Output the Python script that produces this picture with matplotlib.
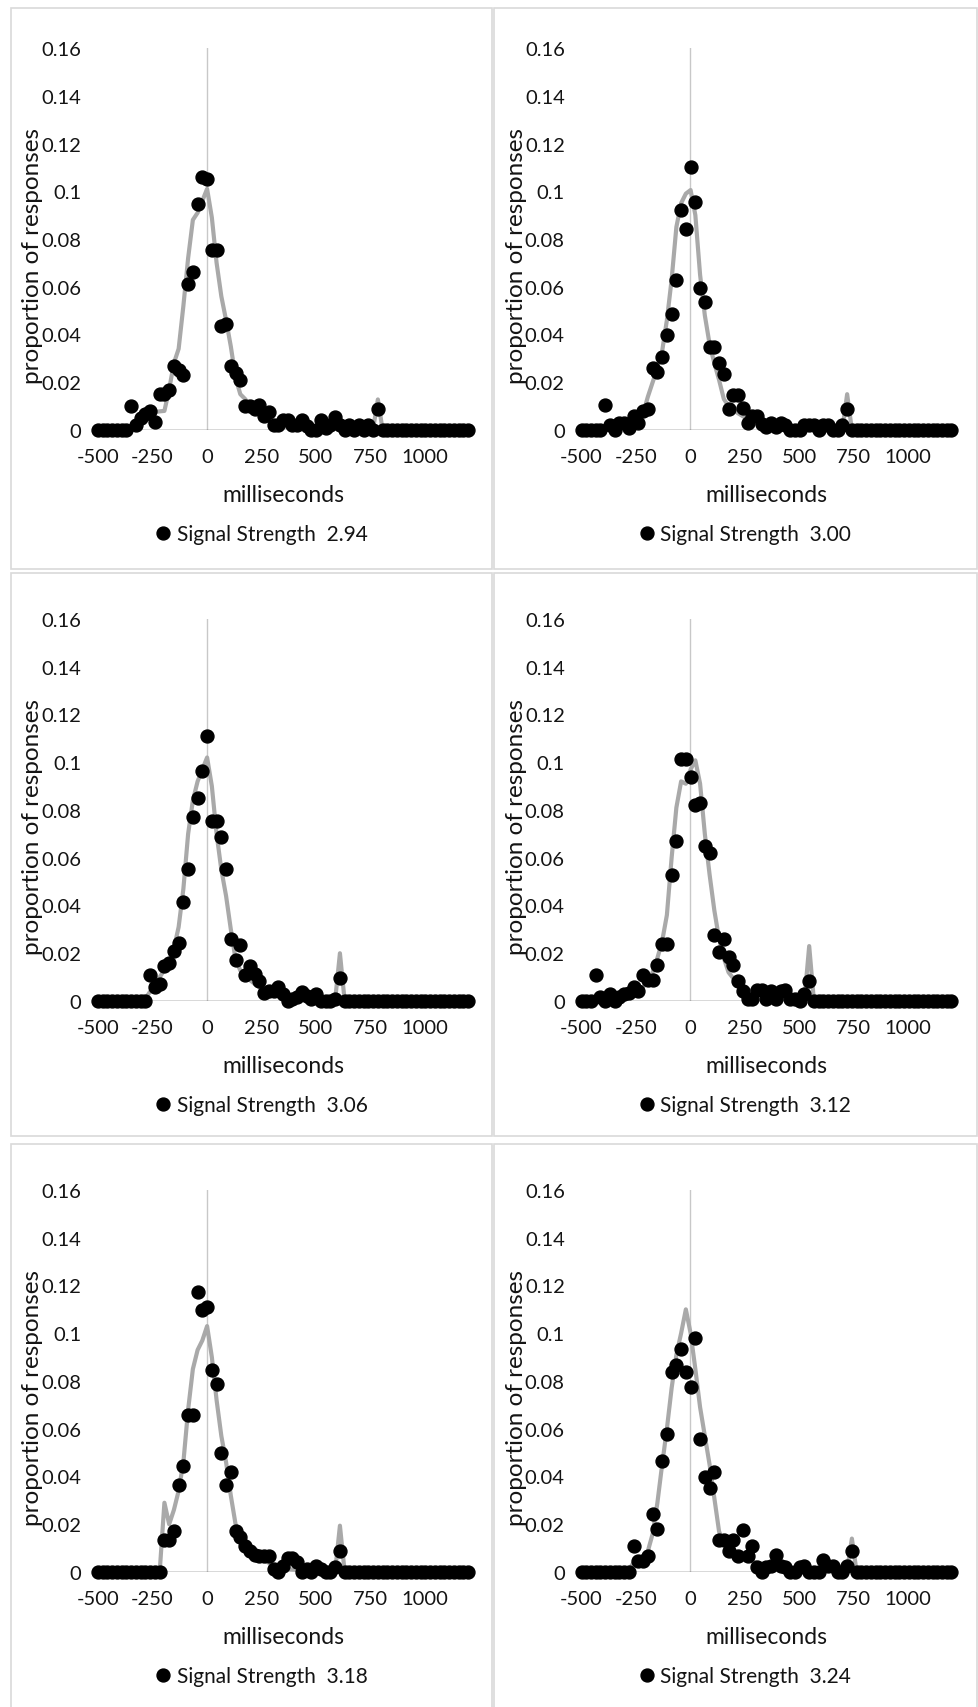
import numpy as np
import matplotlib.pyplot as plt
from matplotlib.patches import Rectangle

plt.rcParams['font.family'] = ['Lato', 'DejaVu Sans']

# response-time bins (ms), shared by all six panels
N_BINS = 79
bin_ms = np.linspace(-500, 1200, N_BINS)

strengths = ['2.94', '3.00', '3.06', '3.12', '3.18', '3.24']

# observed proportions (dots), listed from the first non-zero bin; other bins are 0
dots_294 = [0.010, 0.002, 0.005, 0.0066, 0.008, 0.0035, 0.015, 0.015, 0.0166, 0.027,
            0.025, 0.023, 0.061, 0.066, 0.0946, 0.106, 0.105, 0.0755, 0.0755, 0.0435,
            0.0446, 0.027, 0.024, 0.021, 0.010, 0.010, 0.009, 0.0105, 0.006, 0.0077,
            0.002, 0.002, 0.004, 0.004, 0.002, 0.002, 0.004, 0.0015, 0, 0,
            0.004, 0.001, 0.002, 0.0055, 0.002, 0, 0.002, 0, 0.002, 0,
            0.002, 0, 0.0086]
dots_300 = [0.0105, 0.002, 0, 0.003, 0.003, 0.001, 0.006, 0.003, 0.008, 0.009,
            0.026, 0.0245, 0.0305, 0.040, 0.0486, 0.0628, 0.092, 0.0843, 0.110, 0.0955,
            0.0594, 0.0535, 0.0348, 0.0348, 0.028, 0.0235, 0.009, 0.0148, 0.0148, 0.0092,
            0.003, 0.006, 0.006, 0.0025, 0.0012, 0.003, 0.0012, 0.003, 0.002, 0,
            0, 0, 0.002, 0.002, 0.002, 0, 0.002, 0.002, 0, 0,
            0.002, 0.009]
dots_306 = [0.011, 0.0058, 0.007, 0.0146, 0.016, 0.021, 0.0243, 0.0415, 0.0554, 0.0772,
            0.085, 0.0965, 0.111, 0.0754, 0.0754, 0.0685, 0.0554, 0.026, 0.017, 0.0234,
            0.0108, 0.0146, 0.0115, 0.0085, 0.0034, 0.0043, 0.0043, 0.0057, 0.003, 0,
            0.0008, 0.0015, 0.0038, 0.0023, 0.0008, 0.003, 0, 0, 0, 0.0008,
            0.0095]
dots_312 = [0.0108, 0.0015, 0, 0.003, 0, 0.0015, 0.003, 0.0034, 0.006, 0.004,
            0.011, 0.009, 0.009, 0.015, 0.024, 0.024, 0.0526, 0.067, 0.1015, 0.1015,
            0.094, 0.082, 0.083, 0.065, 0.062, 0.0277, 0.0205, 0.026, 0.0185, 0.015,
            0.0085, 0.004, 0.001, 0.001, 0.0046, 0.0046, 0.001, 0.004, 0.001, 0.004,
            0.0046, 0.001, 0.001, 0, 0.003, 0.0085]
dots_318 = [0.0133, 0.0133, 0.017, 0.0365, 0.0444, 0.0656, 0.0656, 0.1174, 0.1096, 0.111,
            0.0845, 0.0788, 0.050, 0.0365, 0.042, 0.017, 0.0148, 0.011, 0.009, 0.0073,
            0.0065, 0.0065, 0.0065, 0.0012, 0, 0.0027, 0.0058, 0.0058, 0.0042, 0,
            0.0012, 0, 0.0027, 0.0012, 0, 0, 0.002, 0.009]
dots_324 = [0.011, 0.0045, 0.0045, 0.0065, 0.0244, 0.0179, 0.0467, 0.0576, 0.0838, 0.0868,
            0.0932, 0.0838, 0.0773, 0.0979, 0.0555, 0.040, 0.0353, 0.042, 0.0133, 0.0133,
            0.0088, 0.0133, 0.0065, 0.0176, 0.0065, 0.011, 0.002, 0, 0.002, 0.0024,
            0.0073, 0.0024, 0.002, 0, 0, 0.002, 0.0024, 0, 0, 0,
            0.005, 0.0024, 0.0024, 0, 0, 0.0024, 0.0088]
dots_first_bin = [7, 5, 11, 3, 14, 11]

# model curve (grey line), listed from its first non-zero bin
fit_294 = [0.002, 0.004, 0.006, 0.007, 0.0075, 0.0078, 0.008, 0.017, 0.028, 0.034,
           0.052, 0.072, 0.088, 0.091, 0.096, 0.101, 0.089, 0.070, 0.056, 0.046,
           0.035, 0.022, 0.015, 0.013, 0.0105, 0.0085, 0.0066, 0.005, 0.0037, 0.003,
           0.002, 0.0015, 0.0012, 0.001, 0.001, 0.0009, 0.0008, 0.0008, 0.0007, 0.0007,
           0.0006, 0.0006, 0.0006, 0.0005, 0.0005, 0.0005, 0.0005, 0.0005, 0.0005, 0.0005,
           0.0005, 0.0128]
fit_300 = [0.001, 0.003, 0.007, 0.014, 0.020, 0.026, 0.033, 0.046, 0.063, 0.085,
           0.095, 0.099, 0.1005, 0.090, 0.065, 0.048, 0.036, 0.028, 0.021, 0.013,
           0.010, 0.0085, 0.007, 0.0058, 0.0045, 0.0035, 0.0028, 0.0022, 0.0016, 0.0012,
           0.001, 0.001, 0.0009, 0.0008, 0.0008, 0.0007, 0.0007, 0.0006, 0.0006, 0.0006,
           0.0005, 0.0005, 0.0005, 0.0005, 0.0005, 0.015]
fit_306 = [0.001, 0.004, 0.007, 0.010, 0.013, 0.0155, 0.022, 0.031, 0.047, 0.070,
           0.084, 0.092, 0.097, 0.102, 0.090, 0.070, 0.055, 0.044, 0.030, 0.0175,
           0.0128, 0.0105, 0.0088, 0.0072, 0.0058, 0.0045, 0.0035, 0.0027, 0.002, 0.0014,
           0.001, 0.0009, 0.0008, 0.0008, 0.0007, 0.0007, 0.0006, 0.0006, 0.0005, 0.0005,
           0.0005, 0.020]
fit_312 = [0.0015, 0.002, 0.003, 0.004, 0.005, 0.006, 0.0077, 0.012, 0.018, 0.025,
           0.036, 0.060, 0.081, 0.092, 0.091, 0.097, 0.1008, 0.091, 0.070, 0.053,
           0.038, 0.026, 0.018, 0.012, 0.0095, 0.008, 0.0065, 0.005, 0.0038, 0.003,
           0.0023, 0.0017, 0.0012, 0.001, 0.0009, 0.0008, 0.0008, 0.0007, 0.0007, 0.0006,
           0.023]
fit_318 = [0, 0.029, 0.020, 0.026, 0.034, 0.046, 0.068, 0.085, 0.093, 0.097,
           0.103, 0.090, 0.072, 0.057, 0.046, 0.032, 0.020, 0.0145, 0.012, 0.0095,
           0.0078, 0.0062, 0.005, 0.0038, 0.003, 0.0022, 0.0016, 0.0012, 0.001, 0.0009,
           0.0008, 0.0008, 0.0007, 0.0007, 0.0006, 0.0006, 0.0005, 0.0005, 0.0194]
fit_324 = [0.001, 0.004, 0.0058, 0.0068, 0.0088, 0.016, 0.029, 0.045, 0.060, 0.077,
           0.091, 0.100, 0.110, 0.100, 0.085, 0.069, 0.057, 0.045, 0.031, 0.017,
           0.012, 0.0105, 0.009, 0.008, 0.007, 0.0058, 0.0045, 0.0038, 0.003, 0.0025,
           0.002, 0.0018, 0.0017, 0.0016, 0.0015, 0.0014, 0.0013, 0.0012, 0.0011, 0.001,
           0.001, 0.001, 0.0009, 0.0009, 0.0008, 0.0008, 0.0008, 0.014]
fit_first_bin = [8, 11, 10, 8, 13, 10]

dots_all = [dots_294, dots_300, dots_306, dots_312, dots_318, dots_324]
fit_all = [fit_294, fit_300, fit_306, fit_312, fit_318, fit_324]

y_ticks = [0, 0.02, 0.04, 0.06, 0.08, 0.1, 0.12, 0.14, 0.16]
y_tick_labels = ['0', '0.02', '0.04', '0.06', '0.08', '0.1', '0.12', '0.14', '0.16']
x_ticks = [-500, -250, 0, 250, 500, 750, 1000]


def spread(first, vals):
	y = np.zeros(N_BINS)
	y[first:first + len(vals)] = vals
	return y


W, H = 979, 1708
fig = plt.figure(figsize=(W / 100, H / 100), dpi=100)
fig.patch.set_facecolor('white')

TXT = '#141414'
col_step = 483.5
row_step = 571.0

# chart-area borders
for r, (top, h) in enumerate([(9, 561), (574, 563), (1145, 570)]):
	for left, w in [(11, 481), (494, 483)]:
		fig.add_artist(Rectangle((left / W, 1 - (top + h) / H), w / W, h / H,
			transform=fig.transFigure, fill=False, ec='#d9d9d9', lw=1.2))

for i, s in enumerate(strengths):
	r, c = divmod(i, 2)
	left = 98 + c * col_step
	bottom = 431 + r * row_step
	ax = fig.add_axes([left / W, 1 - bottom / H, 370 / W, 382 / H])

	y_dots = spread(dots_first_bin[i], dots_all[i])
	y_fit = spread(fit_first_bin[i], fit_all[i])

	ax.axvline(0, color='#c8c8c8', lw=1.0, zorder=1)
	ax.axhline(0, color='#404040', lw=1.0, zorder=1)
	ax.plot(bin_ms, y_fit, color='#a9a9a9', lw=3.0, zorder=2, solid_joinstyle='round')
	dot, = ax.plot(bin_ms, y_dots, 'o', color='black', ms=9.3, zorder=3, clip_on=False)

	ax.set_xlim(-500, 1200)
	ax.set_ylim(0, 0.16)
	ax.set_xticks(x_ticks)
	ax.set_xticklabels([str(t) for t in x_ticks])
	ax.set_yticks(y_ticks)
	ax.set_yticklabels(y_tick_labels)
	ax.tick_params(axis='x', length=0, pad=13, labelsize=14.5, labelcolor=TXT)
	ax.tick_params(axis='y', length=0, pad=12, labelsize=14.5, labelcolor=TXT)
	for sp in ax.spines.values():
		sp.set_visible(False)
	ax.set_facecolor('none')

	ax.set_xlabel('milliseconds', fontsize=16.5, color=TXT, va='center')
	ax.xaxis.set_label_coords(0.5, -64.5 / 382)
	ax.set_ylabel('proportion of responses', fontsize=17.5, color=TXT, va='center')
	ax.yaxis.set_label_coords(-0.176, 0.458)

	lx = (262 + c * col_step) / W
	ly = 1 - (535 + r * row_step) / H
	ax.legend([dot], ['Signal Strength  ' + s], loc='center', bbox_to_anchor=(lx, ly),
		bbox_transform=fig.transFigure, frameon=False, fontsize=15, numpoints=1,
		handlelength=0.7, handletextpad=0.3, labelcolor=TXT)

fig.savefig('out.png', dpi=100, facecolor='white')
